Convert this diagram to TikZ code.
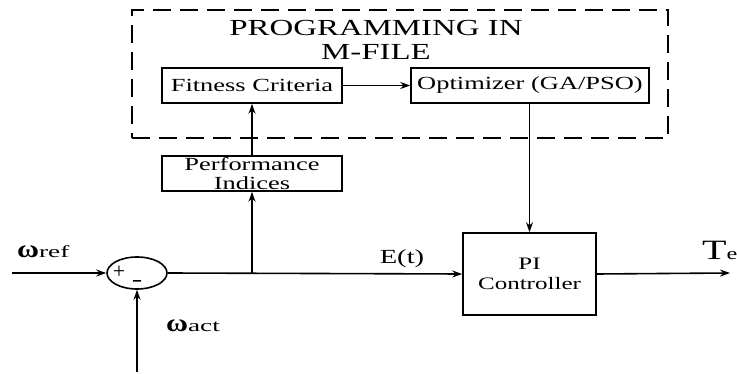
\documentclass[tikz,border=0pt]{standalone}
\usepackage{graphicx}
\usepackage{fontspec}
\setmainfont{Liberation Serif}
\usetikzlibrary{arrows.meta,shapes.geometric}
\newcommand{\ws}[2][1.43]{\scalebox{#1}[1]{#2}}
\newcommand{\fsz}[1]{\fontsize{#1}{#1}\selectfont}
\begin{document}
\begin{tikzpicture}[x=1pt,y=-1pt,
  box/.style={draw, line width=1.6pt, inner sep=0pt, align=center, font=\fontsize{18.5}{19.5}\selectfont},
  arr/.style={line width=1.6pt, -{Stealth[length=10pt,width=7pt]}},
  lbl/.style={inner sep=0pt}]
\useasboundingbox (0,0) rectangle (737,374);
% dashed frame
\node[draw, dash pattern=on 18pt off 9pt, line width=1.6pt, minimum width=536pt, minimum height=128pt, inner sep=0pt] (mfile) at (400,74) {};
\node[lbl, align=center, font=\fontsize{23}{24}\selectfont] (title) at (376,40) {\ws{PROGRAMMING IN}\\\ws{M-FILE}};
% blocks
\node[box, minimum width=180pt, minimum height=35pt] (fit) at (252,85.5) {\ws{Fitness Criteria}};
\node[box, minimum width=238pt, minimum height=35pt] (opt) at (530,85.5) {\ws{Optimizer (GA/PSO)}};
\node[box, minimum width=180pt, minimum height=35pt] (perf) at (252,173.5) {\ws{Performance}\\\ws{Indices}};
\node[box, minimum width=133pt, minimum height=82pt, font=\fontsize{17.5}{20}\selectfont] (pi) at (529.5,274) {\ws{PI}\\\ws{Controller}};
\node[draw, ellipse, line width=1.6pt, minimum width=60pt, minimum height=32pt, inner sep=0pt] (sum) at (137,273) {};
% free ends
\coordinate (in) at (12,273);
\coordinate (fb) at (137,372);
\coordinate (out) at (730,273);
% connectors
\draw[arr] (in) -- (sum.west);
\draw[arr] (fb) -- (sum.south);
\draw[arr] (sum.east) -- (pi.west);
\draw[arr] (perf.south |- sum.east) -- (perf.south);
\draw[arr] (perf.north) -- (fit.south);
\draw[arr] (fit.east) -- (opt.west);
\draw[arr] (pi.north |- opt.south) -- (pi.north);
\draw[arr] (pi.east) -- (out);
% labels
\node[lbl, font=\fsz{20}] (et) at (402,259) {\ws{E(t)}};
\node[lbl, anchor=base west] (te) at (702,260) {\ws{\fsz{28}T}\ws{\fsz{17}e}};
\node[lbl, anchor=base west] (wref) at (17,258) {\ws[1.2]{\fsz{25}\bfseries ω}\ws[1.6]{\fsz{17}ref}};
\node[lbl, anchor=base west] (wact) at (166,331) {\ws[1.2]{\fsz{25}\bfseries ω}\ws[1.6]{\fsz{17}act}};
\node[lbl, font=\fsz{22}] (plus) at (119,272) {+};
\node[lbl, font=\fsz{22}] (minus) at (137,283) {\ws{-}};
\end{tikzpicture}
\end{document}
